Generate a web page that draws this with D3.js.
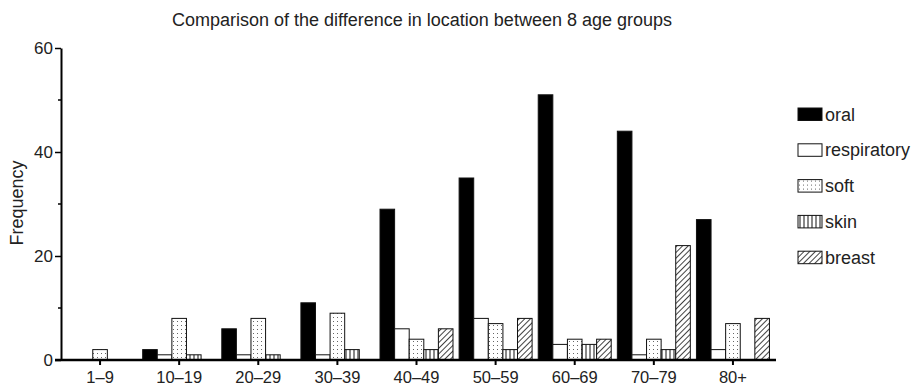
<html>
<head>
  <style type="text/css">
    body { margin: 0; background: #fff; }
    text { font-family: "Liberation Sans", Arial, sans-serif; fill: #222; }
  </style>
</head>
<body>
  <div id="viz"></div>
  <script src="https://cdnjs.cloudflare.com/ajax/libs/d3/7.8.5/d3.min.js"></script>
  <script>
  // age groups and series
  const ageGroups = ['1–9', '10–19', '20–29', '30–39', '40–49', '50–59', '60–69', '70–79', '80+'];
  const seriesNames = ['oral', 'respiratory', 'soft', 'skin', 'breast'];

  const oral        = [0, 2, 6, 11, 29, 35, 51, 44, 27];
  const respiratory = [0, 1, 1, 1, 6, 8, 3, 1, 2];
  const soft        = [2, 8, 8, 9, 4, 7, 4, 4, 7];
  const skin        = [0, 1, 1, 2, 2, 2, 3, 2, 0];
  const breast      = [0, 0, 0, 0, 6, 8, 4, 22, 8];

  const yTicks = [0, 20, 40, 60];
  const yMinorTicks = [10, 30, 50];

  const seriesValues = [oral, respiratory, soft, skin, breast];

  const width = 915, height = 388;
  const svg = d3.select('#viz').append('svg')
    .attr('width', width)
    .attr('height', height);

  // patterns for the hatched bars
  const defs = svg.append('defs');
  const dots = defs.append('pattern').attr('id', 'pat-soft')
    .attr('patternUnits', 'userSpaceOnUse').attr('width', 4).attr('height', 4);
  dots.append('rect').attr('width', 4).attr('height', 4).attr('fill', '#fff');
  dots.append('rect').attr('x', 1).attr('y', 1).attr('width', 1).attr('height', 1).attr('fill', '#666');

  const vlines = defs.append('pattern').attr('id', 'pat-skin')
    .attr('patternUnits', 'userSpaceOnUse').attr('width', 4).attr('height', 4);
  vlines.append('rect').attr('width', 4).attr('height', 4).attr('fill', '#fff');
  vlines.append('line').attr('x1', 2).attr('x2', 2).attr('y1', 0).attr('y2', 4)
    .attr('stroke', '#111').attr('stroke-width', 1);

  const diag = defs.append('pattern').attr('id', 'pat-breast')
    .attr('patternUnits', 'userSpaceOnUse').attr('width', 4).attr('height', 4)
    .attr('patternTransform', 'rotate(45)');
  diag.append('rect').attr('width', 4).attr('height', 4).attr('fill', '#fff');
  diag.append('line').attr('x1', 0).attr('x2', 0).attr('y1', 0).attr('y2', 4)
    .attr('stroke', '#111').attr('stroke-width', 1.6);

  const fills = {
    oral: '#000',
    respiratory: '#fff',
    soft: 'url(#pat-soft)',
    skin: 'url(#pat-skin)',
    breast: 'url(#pat-breast)'
  };

  // scales
  const x0 = d3.scaleBand()
    .domain(ageGroups)
    .range([60.5, 772.5])
    .padding(0);

  const x1 = d3.scaleBand()
    .domain(seriesNames)
    .range([0, x0.bandwidth()])
    .paddingInner(0)
    .paddingOuter(0.21);

  const y = d3.scaleLinear()
    .domain([0, 60])
    .range([360, 48]);

  // bars
  const rows = [];
  ageGroups.forEach((g, i) => {
    seriesNames.forEach((s, j) => {
      rows.push({ group: g, series: s, value: seriesValues[j][i] });
    });
  });

  svg.append('g')
    .selectAll('rect')
    .data(rows.filter(d => d.value > 0))
    .enter().append('rect')
      .attr('x', d => x0(d.group) + x1(d.series))
      .attr('y', d => y(d.value))
      .attr('width', x1.bandwidth())
      .attr('height', d => y(0) - y(d.value))
      .attr('fill', d => fills[d.series])
      .attr('stroke', '#111')
      .attr('stroke-width', 1);

  // y axis
  const yAxis = svg.append('g')
    .attr('transform', 'translate(61,0)')
    .call(d3.axisLeft(y).tickValues(yTicks).tickSize(6).tickSizeOuter(0));
  yAxis.select('.domain').attr('stroke-width', 2);
  yAxis.selectAll('.tick line').attr('stroke-width', 1.5);
  yAxis.selectAll('.tick text').style('font-size', '17px').attr('x', -8);

  svg.append('g')
    .attr('transform', 'translate(61,0)')
    .selectAll('line')
    .data(yMinorTicks)
    .enter().append('line')
      .attr('x1', -3).attr('x2', 0)
      .attr('y1', d => y(d)).attr('y2', d => y(d))
      .attr('stroke', '#000').attr('stroke-width', 1.5);

  // x axis
  const xAxis = svg.append('g')
    .attr('transform', 'translate(0,' + y(0) + ')')
    .call(d3.axisBottom(x0).tickSize(5).tickSizeOuter(0));
  xAxis.select('.domain').attr('d', 'M55,0H776').attr('stroke-width', 2.5);
  xAxis.selectAll('.tick line').attr('stroke-width', 2);
  xAxis.selectAll('.tick text').style('font-size', '16.5px').attr('y', 11);

  // title and axis label
  svg.append('text')
    .attr('x', 422).attr('y', 26)
    .attr('text-anchor', 'middle')
    .style('font-size', '18px')
    .text('Comparison of the difference in location between 8 age groups');

  svg.append('text')
    .attr('transform', 'translate(23,' + 203 + ') rotate(-90)')
    .attr('text-anchor', 'middle')
    .style('font-size', '18px')
    .text('Frequency');

  // legend
  const legend = svg.append('g')
    .selectAll('g')
    .data(seriesNames)
    .enter().append('g')
      .attr('transform', (d, i) => 'translate(798,' + (108 + i * 35.8) + ')');

  legend.append('rect')
    .attr('width', 24).attr('height', 12.5)
    .attr('fill', d => fills[d])
    .attr('stroke', '#111').attr('stroke-width', 1);

  legend.append('text')
    .attr('x', 27).attr('y', 12.5)
    .style('font-size', '18px')
    .text(d => d);
  </script>
</body>
</html>
